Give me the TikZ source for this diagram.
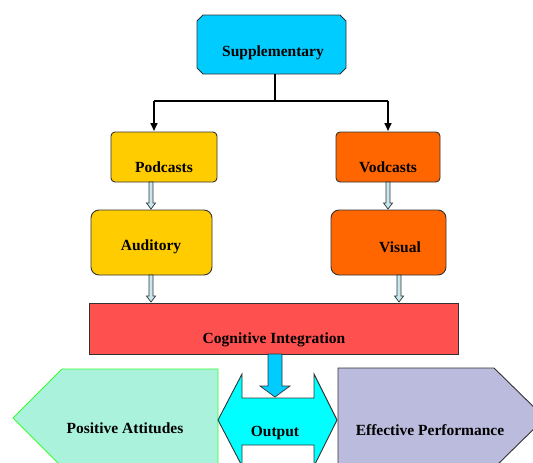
\documentclass[tikz,border=0pt]{standalone}
\usepackage{fontspec}
\setmainfont{Liberation Serif}
\usetikzlibrary{arrows.meta}
\definecolor{supc}{HTML}{00CCFF}
\definecolor{podc}{HTML}{FFCC00}
\definecolor{vodc}{HTML}{FF6600}
\definecolor{cogc}{HTML}{FF5050}
\definecolor{outc}{HTML}{00FFFF}
\definecolor{posc}{HTML}{AAF2DC}
\definecolor{posb}{HTML}{33FF33}
\definecolor{effc}{HTML}{BBBBDD}
\definecolor{edge}{HTML}{333333}
\definecolor{hollowc}{HTML}{C8E8F0}
\tikzset{
  box/.style={draw=edge, line width=0.9pt, inner sep=0pt},
  lbl/.style={font=\bfseries\fontsize{15.5}{17}\selectfont, inner sep=0pt},
  blackarrow/.style={line width=1.6pt, -{Triangle[length=8pt,width=7pt]}},
  hollow/.style={fill=hollowc, draw=edge, line width=0.7pt},
}
\begin{document}
\begin{tikzpicture}[x=1pt,y=-1pt]
\useasboundingbox (0,0) rectangle (533,463);
\clip (0,0) rectangle (533,463);
% Supplementary (chamfered box)
\path[fill=supc, draw=edge, line width=0.9pt] (203,15) -- (340,15) -- (346,21) -- (346,68) -- (340,74) -- (203,74) -- (197,68) -- (197,21) -- cycle;
\node[inner sep=0pt, minimum width=149pt, minimum height=59pt] (sup) at (271.5,44.5) {};
\node[lbl] (supl) at (273,53) {Supplementary};
\node[box, rounded corners=4pt, fill=podc, minimum width=106pt, minimum height=50pt] (pod) at (164,157) {};
\node[lbl] (podl) at (164,167) {Podcasts};
\node[box, rounded corners=4pt, fill=vodc, minimum width=104pt, minimum height=50pt] (vod) at (388,157) {};
\node[lbl] (vodl) at (388,167) {Vodcasts};
\node[box, rounded corners=8pt, fill=podc, minimum width=121pt, minimum height=65pt] (aud) at (151.5,242.5) {};
\node[lbl] (audl) at (151,247) {Auditory};
\node[box, rounded corners=8pt, fill=vodc, minimum width=115pt, minimum height=65pt] (vis) at (388.5,242.5) {};
\node[lbl] (visl) at (400,247) {Visual};
\node[box, fill=cogc, minimum width=369pt, minimum height=51pt] (cog) at (273.5,328.5) {};
\node[lbl] (cogl) at (274,340) {Cognitive Integration};
% connectors from Supplementary
\coordinate (split) at (275,101);
\draw[line width=1.1pt] (275,74) -- (split);
\draw[line width=1.1pt] (154,101) -- (388,101);
\draw[blackarrow] (154,100.5) -- (154,131);
\draw[blackarrow] (388,100.5) -- (388,131);
% hollow arrows
\newcommand{\hollowarrow}[3]{% x, ytop, ytip
  \path[hollow] (#1-2,#2) -- (#1-2,#3-6) -- (#1-4.5,#3-6) -- (#1,#3) -- (#1+4.5,#3-6) -- (#1+2,#3-6) -- (#1+2,#2) -- cycle;}
\hollowarrow{151}{182}{209}
\hollowarrow{388}{182}{209}
\hollowarrow{151}{275}{302}
\hollowarrow{399}{275}{302}
% Positive Attitudes pentagon
\path[fill=posc, draw=posb, line width=0.9pt] (218,369) -- (62,369) -- (13,418) -- (62,467) -- (218,467) -- cycle;
\node[lbl] (posl) at (125,428) {Positive Attitudes};
% Effective Performance pentagon
\path[fill=effc, draw=edge, line width=0.9pt] (338,368) -- (494,368) -- (545,418) -- (494,468) -- (338,468) -- cycle;
\node[lbl] (effl) at (430,430) {Effective Performance};
% Output double arrow
\path[fill=outc, draw=edge, line width=0.9pt] (218,420) -- (242,374) -- (242,398) -- (314,398) -- (314,374) -- (337,420) -- (314,466) -- (314,445) -- (242,445) -- (242,466) -- cycle;
\node[lbl] (outl) at (275,433) {Output};
% blue arrow
\path[fill=supc, draw=edge, line width=0.7pt] (268,354) -- (268,386) -- (260,386) -- (275,397) -- (290,386) -- (282,386) -- (282,354) -- cycle;
\end{tikzpicture}
\end{document}
